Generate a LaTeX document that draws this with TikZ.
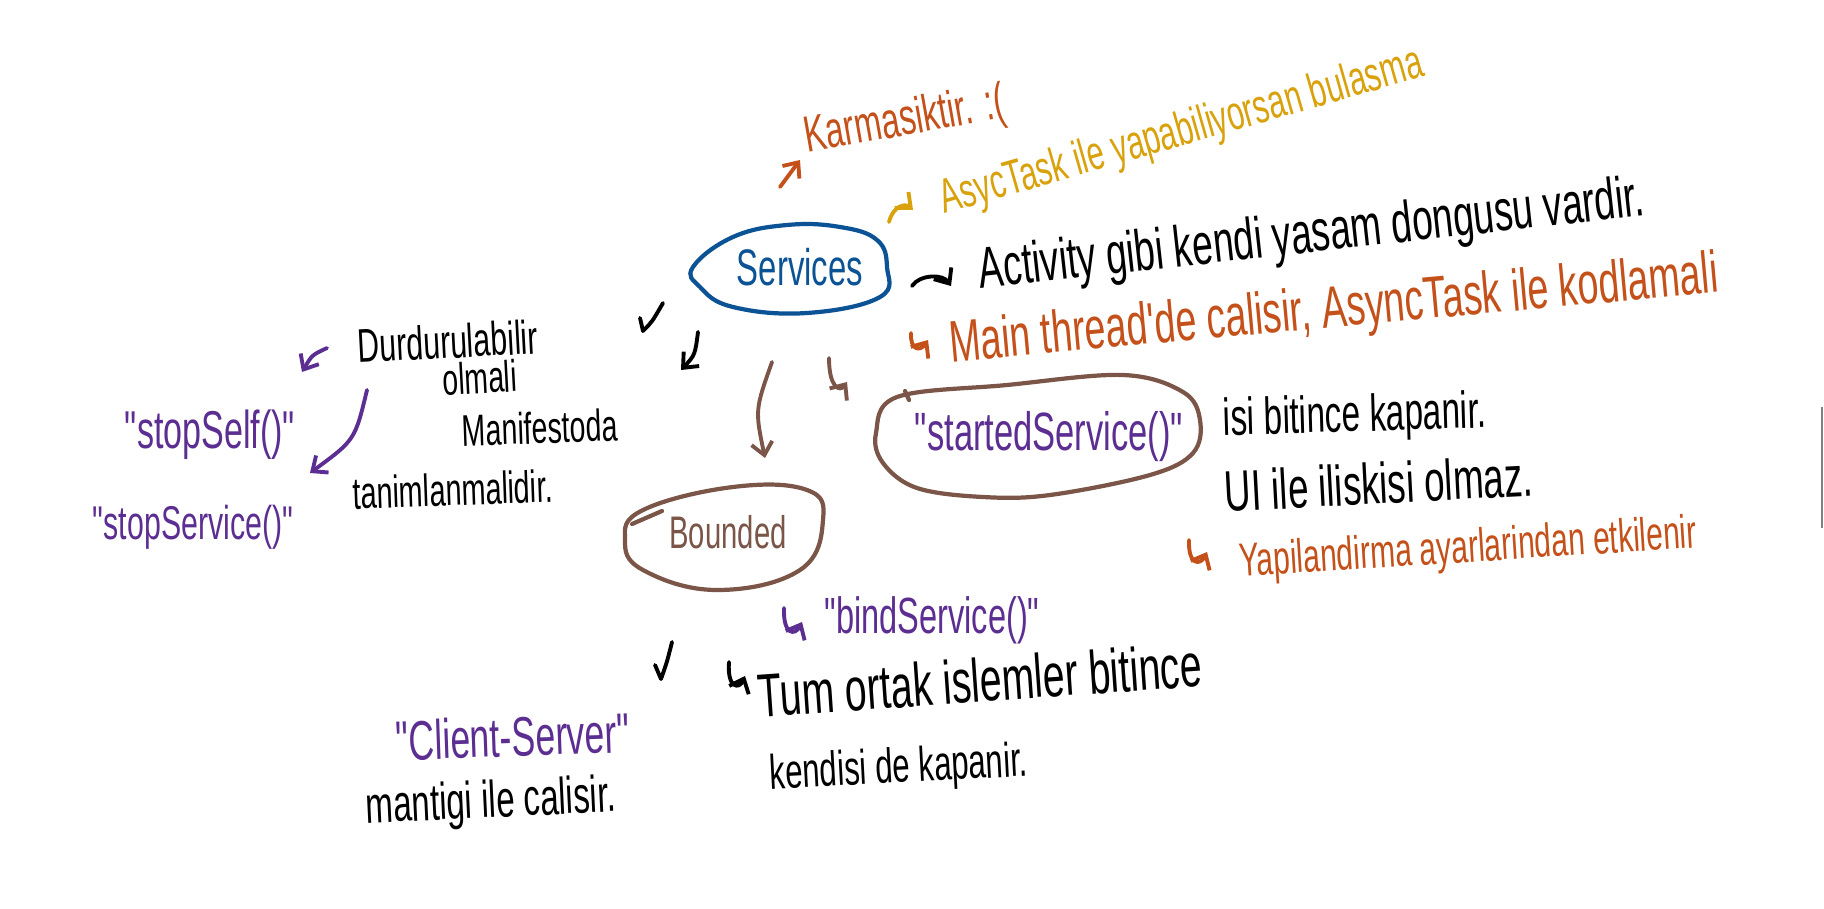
\documentclass[tikz,border=0pt]{standalone}
\usepackage{graphicx}
\usepackage{fontspec}
\usetikzlibrary{arrows.meta}
\newfontfamily\handfont[FakeStretch=0.64]{Liberation Sans}
\definecolor{cblue}{HTML}{0B5394}
\definecolor{cbrown}{HTML}{7A5548}
\definecolor{cpurple}{HTML}{5C2E91}
\definecolor{corange}{HTML}{C4501A}
\definecolor{cgold}{HTML}{D9A20C}
\newcommand{\hwtext}[2]{\resizebox{#1}{!}{\vphantom{Ay}#2}}
\tikzset{
  hand/.style={inner sep=0pt, outer sep=0pt, font=\handfont},
  pen/.style={line width=1.1pt, line cap=round, line join=round},
  oval/.style={line width=1.2pt, line cap=round, line join=round},
  tip/.style={-{Straight Barb[length=3.5pt,width=6pt]}},
}
\begin{document}
\begin{tikzpicture}[x=0.01cm,y=-0.01cm]
\useasboundingbox (0,0) rectangle (1824,909);

% ---------- ovals ----------
\draw[oval, cblue] plot[smooth cycle, tension=0.7] coordinates {(693,267) (733,237) (787,225) (840,227) (877,240) (887,267) (880,297) (807,313) (733,307) (700,287)};
\draw[oval, cbrown] plot[smooth cycle, tension=0.7] coordinates {(625,540) (643,510) (733,487) (807,490) (823,520) (800,570) (717,590) (643,570)};
\draw[oval, cbrown] (632,524) -- (662,511);
\draw[oval, cbrown] plot[smooth cycle, tension=0.6] coordinates {(876,433) (897,397) (1007,385) (1123,375) (1183,392) (1200,420) (1193,453) (1150,475) (1050,495) (983,497) (917,488) (883,463)};
\draw[oval, cbrown] (905,391) -- (909,400);

% ---------- texts ----------
\node[hand, text=cblue] (services) at (800,272) {\hwtext{1.26cm}{Services}};
\node[hand, text=cbrown] (bounded) at (728,537) {\hwtext{1.17cm}{Bounded}};
\node[hand, text=cpurple] (started) at (1049,437) {\hwtext{2.68cm}{"startedService()"}};

\node[hand, text=corange, rotate=10] (karma) at (905,122) {\hwtext{2.03cm}{Karmasiktir. :(}};
\node[hand, text=cgold, rotate=16] (asyc) at (1182,133) {\hwtext{5.00cm}{AsycTask ile yapabiliyorsan bulasma}};
\node[hand, rotate=6.3] (activity) at (1312,237) {\hwtext{6.69cm}{Activity gibi kendi yasam dongusu vardir.}};
\node[hand, text=corange, rotate=5.2] (mainth) at (1334,312) {\hwtext{7.71cm}{Main thread'de calisir, AsyncTask ile kodlamali}};

\node[hand, rotate=3] (durdur) at (448,346) {\hwtext{1.80cm}{Durdurulabilir}};
\node[hand, rotate=3] (olmali) at (480,382) {\hwtext{0.74cm}{olmali}};
\node[hand, rotate=2] (manif) at (540,432) {\hwtext{1.55cm}{Manifestoda}};
\node[hand, rotate=2] (tanim) at (453,494) {\hwtext{2.00cm}{tanimlanmalidir.}};
\node[hand, text=cpurple] (stopself) at (210,435) {\hwtext{1.70cm}{"stopSelf()"}};
\node[hand, text=cpurple] (stopserv) at (193,527) {\hwtext{2.00cm}{"stopService()"}};

\node[hand, rotate=1.7] (isi) at (1355,418) {\hwtext{2.63cm}{isi bitince kapanir.}};
\node[hand, rotate=3] (ui) at (1379,489) {\hwtext{3.08cm}{UI ile iliskisi olmaz.}};
\node[hand, text=corange, rotate=3.6] (yapi) at (1468,550) {\hwtext{4.58cm}{Yapilandirma ayarlarindan etkilenir}};

\node[hand, text=cpurple] (bind) at (932,620) {\hwtext{2.15cm}{"bindService()"}};
\node[hand, rotate=4] (tum) at (980,686) {\hwtext{4.45cm}{Tum ortak islemler bitince}};
\node[hand, rotate=3] (kendisi) at (899,770) {\hwtext{2.58cm}{kendisi de kapanir.}};
\node[hand, text=cpurple, rotate=2] (client) at (513,742) {\hwtext{2.33cm}{"Client-Server"}};
\node[hand, rotate=2.7] (mantik) at (491,804) {\hwtext{2.50cm}{mantigi ile calisir.}};

% ---------- arrow marks ----------
\coordinate (k1) at (780,187); \coordinate (k2) at (800,160);
\draw[pen, corange, tip] (k1) -- (k2);

\coordinate (a1) at (889,222); \coordinate (a2) at (913,210);
\draw[pen, cgold, tip] (a1) .. controls (893,206) and (905,203) .. (a2);

\coordinate (b1) at (912,286); \coordinate (b2) at (951,286);
\draw[pen, tip] (b1) .. controls (920,274) and (943,274) .. (b2);

\coordinate (c1) at (911,333); \coordinate (c2) at (928,340);
\draw[pen, corange, tip] (c1) .. controls (910,350) and (920,352) .. (c2);

\coordinate (d1) at (640,318); \coordinate (d2) at (643,331); \coordinate (d3) at (663,303);
\draw[pen] (d1) -- (d2) .. controls (652,322) .. (d3);

\coordinate (e1) at (698,332); \coordinate (e2) at (681,370);
\draw[pen, tip] (e1) .. controls (695,355) .. (e2);

\coordinate (f1) at (772,362); \coordinate (f2) at (765,458);
\draw[pen, cbrown, tip] (f1) .. controls (755,410) .. (f2);

\coordinate (g1) at (829,358); \coordinate (g2) at (847,382);
\draw[pen, cbrown, tip] (g1) .. controls (829,388) and (840,392) .. (g2);

\coordinate (h1) at (327,348); \coordinate (h2) at (302,372);
\draw[pen, cpurple, tip] (h1) .. controls (312,355) .. (h2);

\coordinate (i1) at (367,390); \coordinate (i2) at (310,473);
\draw[pen, cpurple, tip] (i1) .. controls (355,440) .. (i2);

\coordinate (j1) at (1189,540); \coordinate (j2) at (1207,552);
\draw[pen, corange, tip] (j1) .. controls (1188,565) and (1200,566) .. (j2);

\coordinate (l1) at (784,608); \coordinate (l2) at (802,622);
\draw[pen, cpurple, tip] (l1) .. controls (783,635) and (795,636) .. (l2);

\coordinate (m1) at (655,665); \coordinate (m2) at (661,679); \coordinate (m3) at (672,642);
\draw[pen] (m1) -- (m2) .. controls (667,662) .. (m3);

\coordinate (n1) at (729,662); \coordinate (n2) at (745,676);
\draw[pen, tip] (n1) .. controls (727,688) and (739,690) .. (n2);

% ---------- edge line ----------
\coordinate (z1) at (1822,407); \coordinate (z2) at (1822,528);
\draw[line width=0.6pt, gray] (z1) -- (z2);
\end{tikzpicture}
\end{document}
